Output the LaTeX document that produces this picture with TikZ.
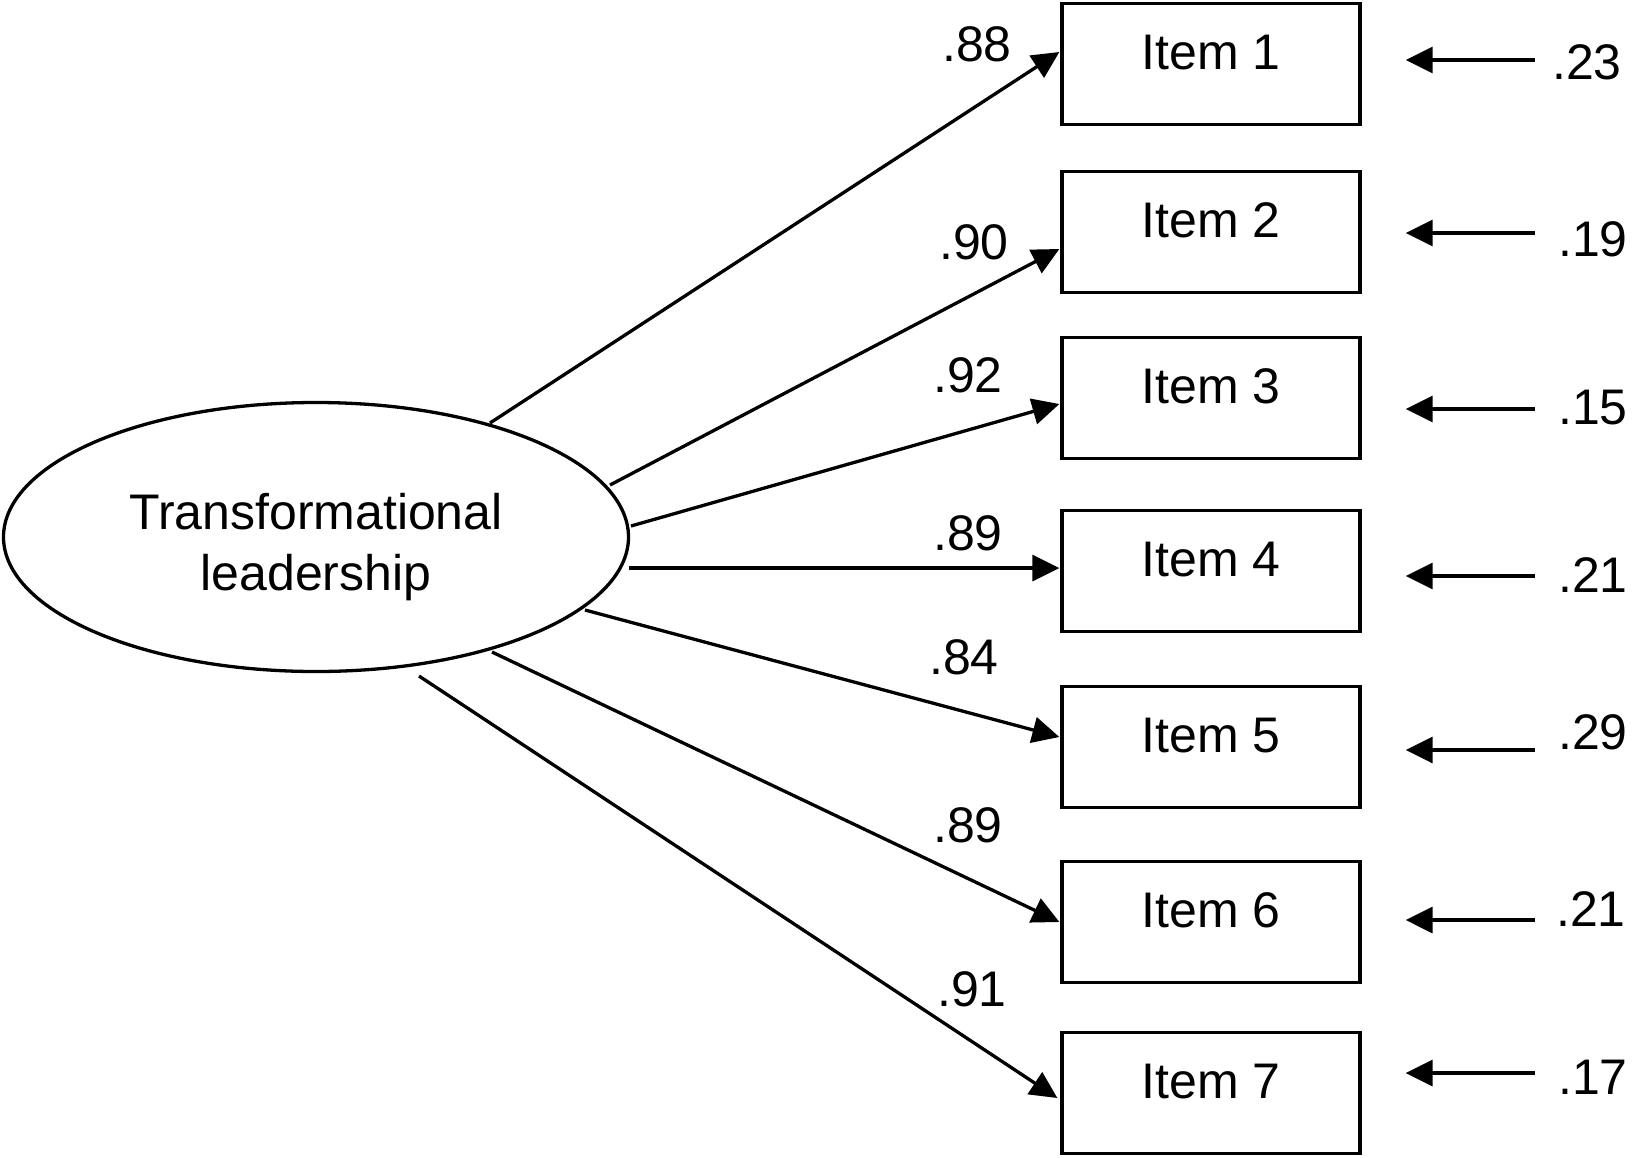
\documentclass[tikz,border=0pt]{standalone}
\usepackage{fontspec}
\setmainfont{Liberation Sans}
\usetikzlibrary{arrows.meta,shapes.geometric,calc}
\begin{document}
\begin{tikzpicture}[x=1pt,y=1pt,
  lw/.style={line width=3.3pt},
  itembox/.style={draw,lw,rectangle,minimum width=298pt,minimum height=121pt,inner sep=0pt,
     font=\fontsize{50}{60}\selectfont,text height=37pt,text depth=26pt},
  latent/.style={draw,lw,ellipse,minimum width=625pt,minimum height=269pt,inner sep=0pt},
  arr/.style={lw,-{Triangle[length=27pt,width=26pt]}},
  lab/.style={font=\fontsize{50}{60}\selectfont,anchor=base,inner sep=0pt}]
\useasboundingbox (0,0) rectangle (1643,-1157);
% latent variable
\node[latent] (TL) at (316,-537) {};
\node[align=center,font=\fontsize{50}{61}\selectfont,inner sep=0pt] (TLt) at ($(TL.center)+(0,-10)$) {Transformational\\leadership};
% items
\node[itembox] (i1) at (1211,-64) {Item 1};
\node[itembox] (i2) at (1211,-232) {Item 2};
\node[itembox] (i3) at (1211,-398) {Item 3};
\node[itembox] (i4) at (1211,-571) {Item 4};
\node[itembox] (i5) at (1211,-747) {Item 5};
\node[itembox] (i6) at (1211,-922) {Item 6};
\node[itembox] (i7) at (1211,-1093) {Item 7};
% start points on the ellipse
\coordinate (s1) at ($(TL.center)+(174,114)$);
\coordinate (s2) at ($(TL.center)+(294,52)$);
\coordinate (s3) at ($(TL.center)+(315,11)$);
\coordinate (s4) at ($(TL.center)+(313,-31)$);
\coordinate (s5) at ($(TL.center)+(269,-73)$);
\coordinate (s6) at ($(TL.center)+(176,-115)$);
\coordinate (s7) at ($(TL.center)+(103,-139)$);
% loadings
\draw[arr] (s1) -- ($(i1.west)+(-1,12)$);
\draw[arr] (s2) -- ($(i2.west)+(-1,-17)$);
\draw[arr] (s3) -- ($(i3.west)+(-1,-6)$);
\draw[arr] (s4) -- ($(i4.west)+(-1,3)$);
\draw[arr] (s5) -- ($(i5.west)+(-1,10)$);
\draw[arr] (s6) -- ($(i6.west)+(-1,0)$);
\draw[arr] (s7) -- ($(i7.west)+(-3,-5)$);
% loading labels
\node[lab] (l1) at (977,-61) {.88};
\node[lab] (l2) at (974,-259) {.90};
\node[lab] (l3) at (968,-392) {.92};
\node[lab] (l4) at (968,-550) {.89};
\node[lab] (l5) at (964,-674) {.84};
\node[lab] (l6) at (968,-842) {.89};
\node[lab] (l7) at (972,-1006) {.91};
% error terms
\node[lab] (e1) at (1587,-79) {.23};
\node[lab] (e2) at (1593,-256) {.19};
\node[lab] (e3) at (1593,-424) {.15};
\node[lab] (e4) at (1593,-592) {.21};
\node[lab] (e5) at (1593,-749) {.29};
\node[lab] (e6) at (1591,-926) {.21};
\node[lab] (e7) at (1593,-1094) {.17};
\draw[arr] ($(i1.east)+(173,4)$) -- ($(i1.east)+(44,4)$);
\draw[arr] ($(i2.east)+(173,-1)$) -- ($(i2.east)+(44,-1)$);
\draw[arr] ($(i3.east)+(173,-11)$) -- ($(i3.east)+(44,-11)$);
\draw[arr] ($(i4.east)+(173,-5)$) -- ($(i4.east)+(44,-5)$);
\draw[arr] ($(i5.east)+(173,-3)$) -- ($(i5.east)+(44,-3)$);
\draw[arr] ($(i6.east)+(173,2)$) -- ($(i6.east)+(44,2)$);
\draw[arr] ($(i7.east)+(173,20)$) -- ($(i7.east)+(44,20)$);
\end{tikzpicture}
\end{document}
